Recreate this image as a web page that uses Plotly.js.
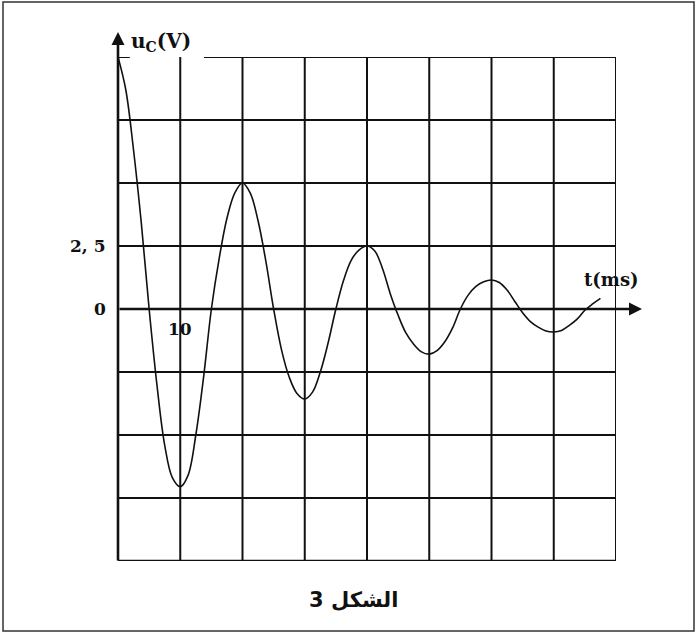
<!DOCTYPE html>
<html>
<head>
<meta charset="utf-8">
<script src="https://cdn.plot.ly/plotly-3.0.1.min.js"></script>
<style>html,body{margin:0;padding:0;background:#fff;}#chart{width:696px;height:634px;}</style>
</head>
<body>
<div id="chart"></div>
<script>
// time in ms, voltage u_C in V
var timeMs = [0, 1.25, 2.5, 3.75, 5, 6.25, 7.5, 8.75, 10, 11.25, 12.5, 13.75, 15, 16.25, 17.5, 18.75, 20, 21.25, 22.5, 23.75, 25, 26.25, 27.5, 28.75, 30, 31.25, 32.5, 33.75, 35, 36.25, 37.5, 38.75, 40, 41.25, 42.5, 43.75, 45, 46.25, 47.5, 48.75, 50, 51.25, 52.5, 53.75, 55, 56.25, 57.5, 58.75, 60, 61.25, 62.5, 63.75, 65, 66.25, 67.5, 68.75, 70, 71.25, 72.5, 73.75, 75, 76.25, 77.5];
var uC = [10, 8.7, 6.3, 3.4, 0, -3.0, -5.4, -6.7, -7.05, -6.6, -5.0, -2.7, 0, 2.0, 3.6, 4.6, 5.0, 4.6, 3.5, 1.9, 0, -1.6, -2.7, -3.35, -3.57, -3.3, -2.5, -1.35, 0, 1.15, 1.95, 2.35, 2.5, 2.3, 1.6, 0.6, -0.25, -0.95, -1.4, -1.7, -1.79, -1.65, -1.3, -0.75, 0, 0.55, 0.9, 1.08, 1.15, 1.05, 0.75, 0.3, -0.15, -0.5, -0.72, -0.87, -0.91, -0.85, -0.65, -0.4, -0.05, 0.2, 0.42];
var yTickLabels = ["2, 5", "0"];
var yTickValues = [2.5, 0];
var xTickLabels = ["10"];
var xTickValues = [10];
var xAxisTitle = "t(ms)";
var yAxisTitle = "u<sub>C</sub>(V)";
var caption = "الشكل 3";

// plot geometry (pixels)
var W = 696, H = 634, L = 118, R = 616, T = 57, B = 561;
function px(x) { return (x - L) / (R - L); }
function py(y) { return (B - y) / (B - T); }

var gridCol = "#111";
var shapes = [];
for (var gx = 10; gx <= 80; gx += 10) {
  shapes.push({type: "line", xref: "x", yref: "y", x0: gx, x1: gx, y0: -10, y1: 10, line: {color: gridCol, width: 2}});
}
for (var gy = -10; gy < 10; gy += 2.5) {
  if (gy === 0) continue;
  shapes.push({type: "line", xref: "x", yref: "y", x0: 0, x1: 80, y0: gy, y1: gy, line: {color: gridCol, width: gy === -10 ? 2.5 : 2}});
}
shapes.push({type: "line", xref: "x", yref: "y", x0: 0, x1: 1.9, y0: 10, y1: 10, line: {color: gridCol, width: 2}});
shapes.push({type: "line", xref: "x", yref: "y", x0: 13.8, x1: 80, y0: 10, y1: 10, line: {color: gridCol, width: 2}});
shapes.push({type: "rect", xref: "paper", yref: "paper", x0: px(3), x1: px(694), y0: py(631), y1: py(2), line: {color: "#333", width: 1.5}, fillcolor: "rgba(0,0,0,0)"});

var serif = "DejaVu Serif, Liberation Serif, serif";
var annotations = [];
annotations.push({xref: "paper", yref: "y", x: px(642), y: 0, ax: -(642 - L), ay: 0, axref: "pixel", ayref: "pixel", showarrow: true, arrowhead: 2, arrowsize: 1, arrowwidth: 2.6, arrowcolor: "#111", text: "", standoff: 0});
annotations.push({xref: "paper", yref: "paper", x: 0, y: py(32), ax: 0, ay: (B + 1 - 32), axref: "pixel", ayref: "pixel", showarrow: true, arrowhead: 2, arrowsize: 1, arrowwidth: 2.6, arrowcolor: "#111", text: "", standoff: 0});
for (var i = 0; i < yTickValues.length; i++) {
  annotations.push({xref: "paper", yref: "y", x: px(108), y: yTickValues[i], xanchor: "right", yanchor: "middle", showarrow: false, text: yTickLabels[i], font: {family: serif, size: 17, color: "#111", weight: "bold"}});
}
for (var j = 0; j < xTickValues.length; j++) {
  annotations.push({xref: "x", yref: "paper", x: xTickValues[j], y: py(329), xanchor: "center", yanchor: "middle", showarrow: false, text: xTickLabels[j], font: {family: serif, size: 17, color: "#111", weight: "bold"}});
}
annotations.push({xref: "paper", yref: "paper", x: px(582), y: py(279), xanchor: "left", yanchor: "middle", showarrow: false, text: xAxisTitle, font: {family: serif, size: 18, color: "#111", weight: "bold"}});
annotations.push({xref: "paper", yref: "paper", x: px(129), y: py(42), xanchor: "left", yanchor: "middle", showarrow: false, text: yAxisTitle, font: {family: serif, size: 20, color: "#111", weight: "bold"}});
annotations.push({xref: "paper", yref: "paper", x: px(353), y: py(600), xanchor: "center", yanchor: "middle", showarrow: false, text: caption, font: {family: "DejaVu Sans, sans-serif", size: 21, color: "#111", weight: "bold"}});

var trace = {
  x: timeMs, y: uC, type: "scatter", mode: "lines",
  line: {color: "#111", width: 1.6, shape: "spline", smoothing: 1},
  hoverinfo: "skip", cliponaxis: false
};

var layout = {
  width: W, height: H,
  margin: {l: L, r: W - R, t: T, b: H - B, pad: 0},
  paper_bgcolor: "#fff", plot_bgcolor: "#fff",
  showlegend: false,
  xaxis: {range: [0, 80], showgrid: false, zeroline: false, showticklabels: false, showline: false, ticks: "", fixedrange: true},
  yaxis: {range: [-10, 10], showgrid: false, zeroline: false, showticklabels: false, showline: false, ticks: "", fixedrange: true},
  shapes: shapes,
  annotations: annotations
};

Plotly.newPlot("chart", [trace], layout, {staticPlot: true, displayModeBar: false});
</script>
</body>
</html>
